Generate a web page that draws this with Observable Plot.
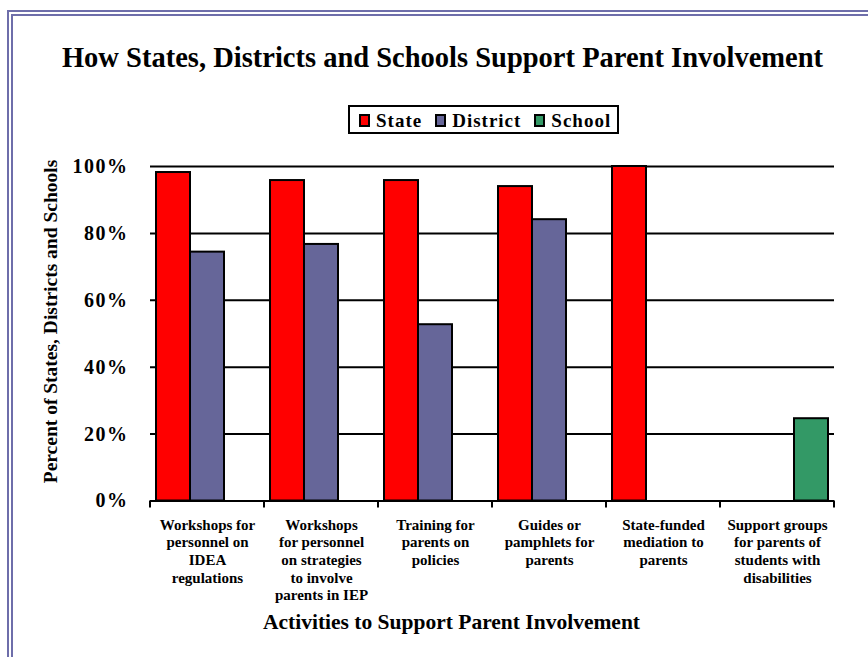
<!DOCTYPE html>
<html>
<head>
<meta charset="utf-8">
<script src="https://cdn.jsdelivr.net/npm/d3@7"></script>
<script src="https://cdn.jsdelivr.net/npm/@observablehq/plot@0.6"></script>
<style>
  html, body { margin: 0; padding: 0; background: #fff; overflow: hidden; }
  #page { position: relative; width: 868px; height: 657px; overflow: hidden; background: #fff;
          font-family: "Liberation Serif", "Times New Roman", serif; font-weight: bold; color: #000; }
  #border { position: absolute; left: 7px; top: 10px; width: 1000px; height: 1000px;
            border: 6px double #6e6eaa; box-sizing: border-box; }
  #title { position: absolute; left: 0; top: 43px; width: 885px; text-align: center;
           font-size: 28.5px; line-height: 29px; white-space: nowrap; }
  #legend { position: absolute; left: 348px; top: 105px; width: 271px; height: 29px; box-sizing: border-box;
            border: 2px solid #000; display: flex; align-items: center; padding-left: 9px; padding-top: 1px;
            font-size: 19px; line-height: 19px; letter-spacing: 1px; background: #fff; }
  #legend .item { display: flex; align-items: center; margin-right: 13px; }
  #legend .sw { width: 11px; height: 13px; box-sizing: border-box; border: 2px solid #000; margin-right: 6px; }
  #chart { position: absolute; left: 0; top: 140px; }
  #chart svg [aria-label^="y-axis"] text { font-size: 20px; letter-spacing: 1.5px; }
</style>
</head>
<body>
<div id="page">
  <div id="border"></div>
  <div id="title"></div>
  <div id="legend"></div>
  <div id="chart"></div>
</div>
<script>
const titleText = "How States, Districts and Schools Support Parent Involvement";
const xTitle = "Activities to Support Parent Involvement";
const yTitle = "Percent of States, Districts and Schools";

const categories = [
  "Workshops for\npersonnel on\nIDEA\nregulations",
  "Workshops\nfor personnel\non strategies\nto involve\nparents in IEP",
  "Training for\nparents on\npolicies",
  "Guides or\npamphlets for\nparents",
  "State-funded\nmediation to\nparents",
  "Support groups\nfor parents of\nstudents with\ndisabilities"
];
const series = ["State", "District", "School"];
const stateValues    = [98.2, 95.8, 95.8, 94.0, 100, null];
const districtValues = [74.4, 76.7, 52.7, 84.1, null, null];
const schoolValues   = [null, null, null, null, null, 24.6];
const seriesColors = ["#ff0000", "#666699", "#339966"];
const yTicks = [0, 20, 40, 60, 80, 100];

const valuesBySeries = [stateValues, districtValues, schoolValues];
const rows = categories.flatMap((c, i) =>
  series.map((s, j) => ({category: c, series: s, value: valuesBySeries[j][i]}))
).filter(d => d.value != null);

document.getElementById("title").textContent = titleText;
const legend = document.getElementById("legend");
series.forEach((s, j) => {
  const item = document.createElement("div");
  item.className = "item";
  const sw = document.createElement("div");
  sw.className = "sw";
  sw.style.background = seriesColors[j];
  const t = document.createElement("span");
  t.textContent = s;
  item.appendChild(sw); item.appendChild(t);
  legend.appendChild(item);
});

const W = 868, H = 517;
const plot = Plot.plot({
  width: W,
  height: H,
  marginLeft: 149,
  marginRight: 33,
  marginTop: 26,
  marginBottom: 156.5,
  style: {fontFamily: "'Liberation Serif', 'Times New Roman', serif", fontWeight: "bold", fontSize: "20px", background: "transparent", overflow: "visible", color: "#000"},
  facet: {data: rows, x: "category"},
  fx: {domain: categories, padding: 0, axis: null, label: null},
  x: {domain: series, paddingInner: 0, paddingOuter: 0.17, axis: null},
  y: {domain: [0, 100], ticks: yTicks, tickFormat: d => d + "%", tickSize: 0, tickPadding: 22, label: null},
  color: {domain: series, range: seriesColors},
  marks: [
    Plot.ruleY(yTicks.filter(d => d > 0), {stroke: "#000", strokeWidth: 2}),
    Plot.barY(rows, {x: "series", y: "value", fill: "series", stroke: "#000", strokeWidth: 2}),
    Plot.ruleY([0], {stroke: "#000", strokeWidth: 2}),
    Plot.text(rows, Plot.selectFirst({text: "category", frameAnchor: "bottom", lineAnchor: "top", dy: 16, lineHeight: 1.18, fontSize: 15, fontWeight: "bold", fill: "#000"}))
  ]
});
document.getElementById("chart").appendChild(plot);

// boundary ticks under the category axis, positioned via Plot's own scales
const svg = d3.select(plot);
try {
  const fx = plot.scale("fx");
  const ys = plot.scale("y");
  const y0 = ys.apply(0);
  const bounds = categories.map(c => fx.apply(c));
  bounds.push(fx.apply(categories[categories.length - 1]) + fx.bandwidth);
  svg.append("g").selectAll("line").data(bounds).join("line")
    .attr("x1", d => d).attr("x2", d => d)
    .attr("y1", y0).attr("y2", y0 + 7)
    .attr("stroke", "#000").attr("stroke-width", 2);
} catch (e) { console.error(e); }

svg.append("text")
  .attr("transform", "translate(57,181.5) rotate(-90)")
  .attr("text-anchor", "middle")
  .attr("font-size", 19.5)
  .attr("font-weight", "bold")
  .attr("fill", "#000")
  .text(yTitle);
svg.append("text")
  .attr("x", 451.5).attr("y", 489)
  .attr("text-anchor", "middle")
  .attr("font-size", 21.5)
  .attr("font-weight", "bold")
  .attr("fill", "#000")
  .text(xTitle);
</script>
</body>
</html>
